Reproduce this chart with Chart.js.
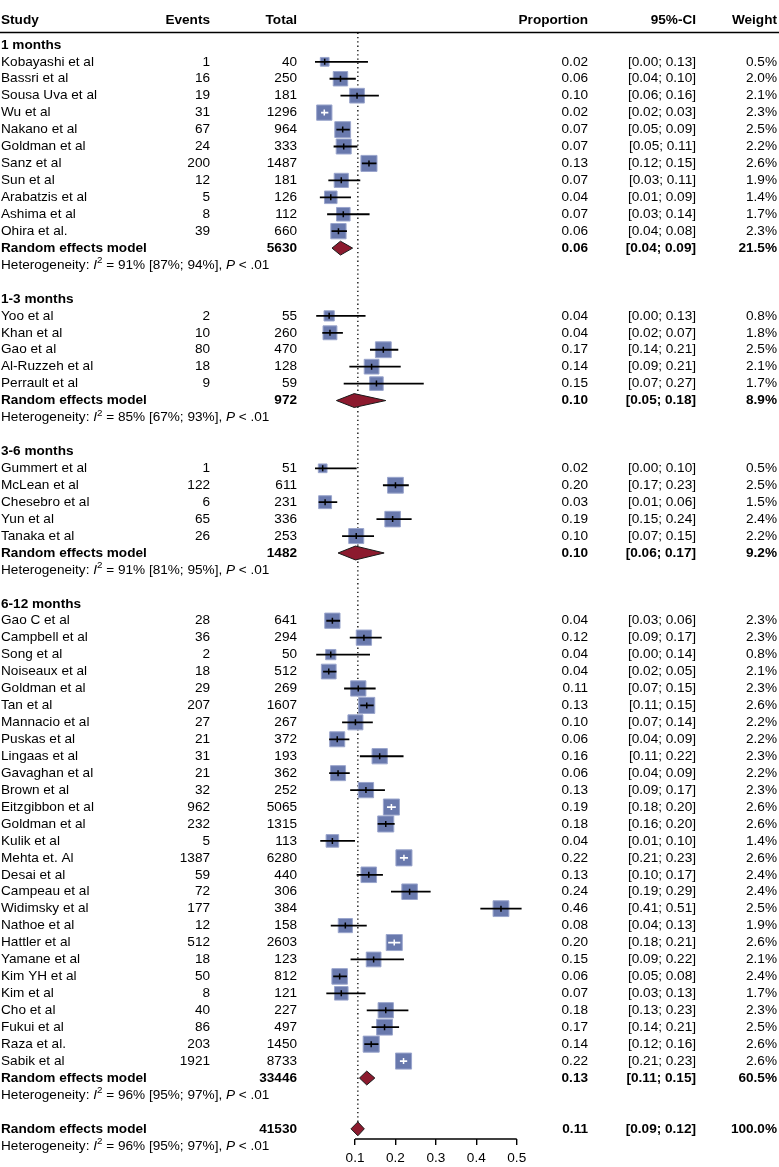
<!DOCTYPE html>
<html>
<head>
<meta charset="utf-8">
<title>Forest plot - proportion by follow-up</title>
<script src="https://cdn.jsdelivr.net/npm/chart.js"></script>
<style>
  body { margin: 0; background: white; }
  #forest { display: block; }
</style>
</head>
<body>
<canvas id="forest" width="779" height="1167"></canvas>
<script>
// ---- data ----
const groups = ['1 months', '1-3 months', '3-6 months', '6-12 months'];
const studyGroup = [0,0,0,0,0,0,0,0,0,0,0, 1,1,1,1,1, 2,2,2,2,2,
  3,3,3,3,3,3,3,3,3,3,3,3,3,3,3,3,3,3,3,3,3,3,3,3,3,3,3];
const studies = ['Kobayashi et al', 'Bassri et al', 'Sousa Uva et al', 'Wu et al', 'Nakano et al',
  'Goldman et al', 'Sanz et al', 'Sun et al', 'Arabatzis et al', 'Ashima et al', 'Ohira et al.',
  'Yoo et al', 'Khan et al', 'Gao et al', 'Al-Ruzzeh et al', 'Perrault et al',
  'Gummert et al', 'McLean et al', 'Chesebro et al', 'Yun et al', 'Tanaka et al',
  'Gao C et al', 'Campbell et al', 'Song et al', 'Noiseaux et al', 'Goldman et al', 'Tan et al',
  'Mannacio et al', 'Puskas et al', 'Lingaas et al', 'Gavaghan et al', 'Brown et al',
  'Eitzgibbon et al', 'Goldman et al', 'Kulik et al', 'Mehta et. Al', 'Desai et al',
  'Campeau et al', 'Widimsky et al', 'Nathoe et al', 'Hattler et al', 'Yamane et al',
  'Kim YH et al', 'Kim et al', 'Cho et al', 'Fukui et al', 'Raza et al.', 'Sabik et al'];
const events = [1, 16, 19, 31, 67, 24, 200, 12, 5, 8, 39,
  2, 10, 80, 18, 9,
  1, 122, 6, 65, 26,
  28, 36, 2, 18, 29, 207, 27, 21, 31, 21, 32, 962, 232, 5, 1387, 59, 72, 177, 12, 512, 18,
  50, 8, 40, 86, 203, 1921];
const totals = [40, 250, 181, 1296, 964, 333, 1487, 181, 126, 112, 660,
  55, 260, 470, 128, 59,
  51, 611, 231, 336, 253,
  641, 294, 50, 512, 269, 1607, 267, 372, 193, 362, 252, 5065, 1315, 113, 6280, 440, 306, 384,
  158, 2603, 123, 812, 121, 227, 497, 1450, 8733];
const prop = [0.02, 0.06, 0.10, 0.02, 0.07, 0.07, 0.13, 0.07, 0.04, 0.07, 0.06,
  0.04, 0.04, 0.17, 0.14, 0.15,
  0.02, 0.20, 0.03, 0.19, 0.10,
  0.04, 0.12, 0.04, 0.04, 0.11, 0.13, 0.10, 0.06, 0.16, 0.06, 0.13, 0.19, 0.18, 0.04, 0.22,
  0.13, 0.24, 0.46, 0.08, 0.20, 0.15, 0.06, 0.07, 0.18, 0.17, 0.14, 0.22];
const est = [0.025, 0.064, 0.105, 0.024, 0.0695, 0.072, 0.1345, 0.066, 0.040, 0.071, 0.059,
  0.036, 0.038, 0.170, 0.141, 0.153,
  0.020, 0.200, 0.026, 0.193, 0.103,
  0.044, 0.122, 0.040, 0.035, 0.108, 0.129, 0.101, 0.056, 0.161, 0.058, 0.127, 0.190, 0.176,
  0.044, 0.221, 0.134, 0.235, 0.461, 0.076, 0.197, 0.146, 0.062, 0.066, 0.176, 0.173, 0.140, 0.220];
const ciLow = [0.001, 0.037, 0.064, 0.016, 0.054, 0.047, 0.117, 0.034, 0.013, 0.031, 0.042,
  0.004, 0.019, 0.137, 0.086, 0.072,
  0.001, 0.169, 0.010, 0.153, 0.068,
  0.029, 0.087, 0.004, 0.021, 0.073, 0.113, 0.068, 0.036, 0.112, 0.036, 0.088, 0.179, 0.156,
  0.014, 0.211, 0.104, 0.189, 0.410, 0.040, 0.182, 0.089, 0.046, 0.029, 0.129, 0.141, 0.123, 0.211];
const ciHigh = [0.132, 0.102, 0.159, 0.034, 0.087, 0.106, 0.153, 0.113, 0.090, 0.136, 0.080,
  0.126, 0.070, 0.207, 0.213, 0.270,
  0.104, 0.233, 0.056, 0.240, 0.147,
  0.063, 0.166, 0.137, 0.054, 0.151, 0.146, 0.144, 0.086, 0.220, 0.087, 0.174, 0.201, 0.198,
  0.100, 0.231, 0.169, 0.287, 0.512, 0.129, 0.212, 0.221, 0.080, 0.126, 0.232, 0.209, 0.158, 0.229];
const weights = [0.5, 2.0, 2.1, 2.3, 2.5, 2.2, 2.6, 1.9, 1.4, 1.7, 2.3,
  0.8, 1.8, 2.5, 2.1, 1.7,
  0.5, 2.5, 1.5, 2.4, 2.2,
  2.3, 2.3, 0.8, 2.1, 2.3, 2.6, 2.2, 2.2, 2.3, 2.2, 2.3, 2.6, 2.6, 1.4, 2.6, 2.4, 2.4, 2.5,
  1.9, 2.6, 2.1, 2.4, 1.7, 2.3, 2.5, 2.6, 2.6];

// random effects summaries: one per subgroup, last one is the overall model
const reTotal = [5630, 972, 1482, 33446, 41530];
const reProp = [0.06, 0.10, 0.10, 0.13, 0.11];
const reEst = [0.064, 0.098, 0.101, 0.129, 0.107];
const reLow = [0.043, 0.054, 0.058, 0.111, 0.090];
const reHigh = [0.094, 0.176, 0.172, 0.149, 0.123];
const reWeight = [21.5, 8.9, 9.2, 60.5, 100.0];
const hetI2 = [91, 85, 91, 96, 96];
const hetLow = [87, 67, 81, 95, 95];
const hetHigh = [94, 93, 95, 97, 97];

const axisTicks = [0.1, 0.2, 0.3, 0.4, 0.5];

// ---- row layout ----
const lines = [];
let r = -1;
groups.forEach((g, gi) => {
  lines.push({ type: 'group', row: r++, gi });
  studies.forEach((s, i) => {
    if (studyGroup[i] === gi) lines.push({ type: 'study', row: r++, i });
  });
  lines.push({ type: 'summary', row: r++, gi });
  lines.push({ type: 'het', row: r++, gi });
  r++;
});
lines.push({ type: 'summary', row: r++, gi: 4 });
lines.push({ type: 'het', row: r++, gi: 4 });

const studyRows = lines.filter(l => l.type === 'study');
const sumRows = lines.filter(l => l.type === 'summary');

const FONT = '"Liberation Sans", Arial, Helvetica, sans-serif';
const FS = 13.6;

function sqSide(w) { return 8.1 * Math.sqrt(w) + 3; }

// ---- datasets ----
const datasets = [];

// reference line at the overall estimate
datasets.push({
  type: 'line',
  data: [{ x: reEst[4], y: -1.72 }, { x: reEst[4], y: sumRows[4].row - 0.2 }],
  borderColor: '#000', borderWidth: 1.3, borderDash: [1.3, 3],
  pointRadius: 0, order: 10
});

// squares
datasets.push({
  type: 'scatter',
  data: studyRows.map(l => ({ x: est[l.i], y: l.row })),
  pointStyle: 'rect',
  pointRadius: studyRows.map(l => sqSide(weights[l.i]) / Math.SQRT2),
  backgroundColor: '#6979AD',
  borderColor: '#9BA6CD',
  borderWidth: 1,
  order: 5
});

// CI drawn white when it fits inside its square
function ciColor(ctx, i) {
  const sx = ctx.chart.scales.x;
  if (!sx) return '#000';
  const w = sx.getPixelForValue(ciHigh[i]) - sx.getPixelForValue(ciLow[i]);
  return w < 0.8 * sqSide(weights[i]) ? '#fff' : '#000';
}

// confidence intervals
studyRows.forEach(l => {
  datasets.push({
    type: 'line',
    data: [{ x: ciLow[l.i], y: l.row }, { x: ciHigh[l.i], y: l.row }],
    borderColor: ctx => ciColor(ctx, l.i),
    borderWidth: 1.8,
    pointRadius: 0,
    order: 2
  });
});

// point estimate ticks
datasets.push({
  type: 'scatter',
  data: studyRows.map(l => ({ x: est[l.i], y: l.row })),
  pointStyle: 'line',
  rotation: 90,
  pointRadius: 3,
  borderWidth: 1.5,
  borderColor: ctx => ctx.dataIndex === undefined ? '#000' : ciColor(ctx, studyRows[ctx.dataIndex].i),
  order: 1
});

// diamonds
sumRows.forEach(l => {
  const h = 0.41;
  datasets.push({
    type: 'line',
    data: [
      { x: reLow[l.gi], y: l.row },
      { x: reEst[l.gi], y: l.row - h },
      { x: reHigh[l.gi], y: l.row },
      { x: reEst[l.gi], y: l.row + h },
      { x: reLow[l.gi], y: l.row }
    ],
    fill: 'shape',
    backgroundColor: '#8C1A2E',
    borderColor: '#1a1a1a',
    borderWidth: 1,
    pointRadius: 0,
    order: 3
  });
});

// ---- text columns and axis line ----
const cols = { study: 1, events: 210, total: 297, prop: 588, ci: 696, weight: 777 };

function txt(ctx, s, x, y, align, bold) {
  ctx.font = (bold ? 'bold ' : '') + FS + 'px ' + FONT;
  ctx.textAlign = align;
  ctx.fillText(s, x, y);
}

function ciText(lo, hi) {
  return '[' + lo.toFixed(2) + '; ' + hi.toFixed(2) + ']';
}

function drawHet(ctx, x, y, gi) {
  const parts = [
    ['Heterogeneity: ', ''],
    ['I', 'italic '],
    ['2', 'sup'],
    [' = ' + hetI2[gi] + '% [' + hetLow[gi] + '%; ' + hetHigh[gi] + '%], ', ''],
    ['P', 'italic '],
    [' < .01', '']
  ];
  ctx.textAlign = 'left';
  parts.forEach(([s, st]) => {
    if (st === 'sup') {
      ctx.font = (FS * 0.72) + 'px ' + FONT;
      ctx.fillText(s, x, y - 4.5);
    } else {
      ctx.font = st + FS + 'px ' + FONT;
      ctx.fillText(s, x, y);
    }
    x += ctx.measureText(s).width;
  });
}

const forestText = {
  id: 'forestText',
  afterDraw(chart) {
    const ctx = chart.ctx;
    const ys = chart.scales.y;
    const xs = chart.scales.x;
    ctx.save();
    ctx.fillStyle = '#000';
    ctx.textBaseline = 'middle';

    // header
    const hy = ys.getPixelForValue(-2.45);
    txt(ctx, 'Study', cols.study, hy, 'left', true);
    txt(ctx, 'Events', cols.events, hy, 'right', true);
    txt(ctx, 'Total', cols.total, hy, 'right', true);
    txt(ctx, 'Proportion', cols.prop, hy, 'right', true);
    txt(ctx, '95%-CI', cols.ci, hy, 'right', true);
    txt(ctx, 'Weight', cols.weight, hy, 'right', true);
    ctx.strokeStyle = '#000';
    ctx.lineWidth = 1.6;
    ctx.beginPath();
    const ly = ys.getPixelForValue(-1.73);
    ctx.moveTo(0, ly);
    ctx.lineTo(chart.width, ly);
    ctx.stroke();

    lines.forEach(l => {
      const y = ys.getPixelForValue(l.row);
      if (l.type === 'group') {
        txt(ctx, groups[l.gi], cols.study, y, 'left', true);
      } else if (l.type === 'study') {
        const i = l.i;
        txt(ctx, studies[i], cols.study, y, 'left', false);
        txt(ctx, String(events[i]), cols.events, y, 'right', false);
        txt(ctx, String(totals[i]), cols.total, y, 'right', false);
        txt(ctx, prop[i].toFixed(2), cols.prop, y, 'right', false);
        txt(ctx, ciText(ciLow[i], ciHigh[i]), cols.ci, y, 'right', false);
        txt(ctx, weights[i].toFixed(1) + '%', cols.weight, y, 'right', false);
      } else if (l.type === 'summary') {
        const g = l.gi;
        txt(ctx, 'Random effects model', cols.study, y, 'left', true);
        txt(ctx, String(reTotal[g]), cols.total, y, 'right', true);
        txt(ctx, reProp[g].toFixed(2), cols.prop, y, 'right', true);
        txt(ctx, ciText(reLow[g], reHigh[g]), cols.ci, y, 'right', true);
        txt(ctx, reWeight[g].toFixed(1) + '%', cols.weight, y, 'right', true);
      } else if (l.type === 'het') {
        drawHet(ctx, cols.study, y, l.gi);
      }
    });

    // x axis line from first to last tick
    const by = chart.chartArea.bottom;
    ctx.lineWidth = 1.5;
    ctx.beginPath();
    ctx.moveTo(xs.getPixelForValue(axisTicks[0]), by);
    ctx.lineTo(xs.getPixelForValue(axisTicks[axisTicks.length - 1]), by);
    ctx.stroke();
    ctx.restore();
  }
};

new Chart(document.getElementById('forest'), {
  type: 'scatter',
  data: { datasets },
  options: {
    responsive: false,
    maintainAspectRatio: false,
    animation: false,
    events: [],
    devicePixelRatio: 1,
    layout: { padding: { left: 300, right: 219, top: 0, bottom: 0 } },
    plugins: { legend: { display: false }, tooltip: { enabled: false } },
    scales: {
      x: {
        type: 'linear',
        min: -0.0361,
        max: 0.607,
        position: 'bottom',
        afterBuildTicks: axis => { axis.ticks = axisTicks.map(v => ({ value: v })); },
        afterFit: axis => { axis.height = 28; },
        ticks: {
          color: '#000',
          padding: 5,
          maxRotation: 0,
          autoSkip: false,
          font: { family: FONT, size: FS },
          callback: v => Number(v).toFixed(1)
        },
        grid: { display: true, drawOnChartArea: false, drawTicks: true, tickLength: 6, color: '#000', lineWidth: 1.4 },
        border: { display: false }
      },
      y: {
        type: 'linear',
        display: false,
        reverse: true,
        min: -2.92,
        max: 63.6
      }
    }
  },
  plugins: [forestText]
});
</script>
</body>
</html>
